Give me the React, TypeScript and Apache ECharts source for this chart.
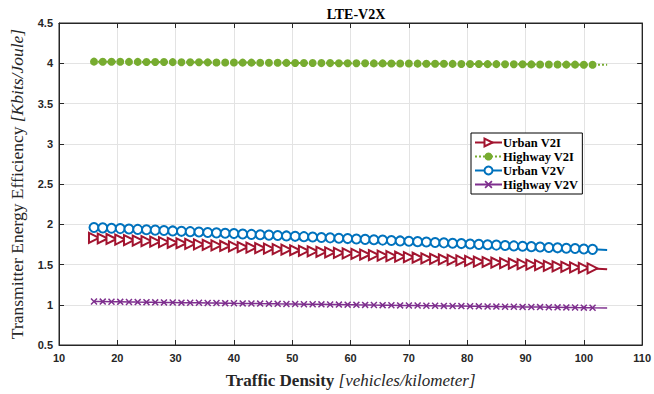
import React, { useEffect, useRef } from "react";
import * as echarts from "echarts";

const density = [16, 17.5, 19, 20.5, 22, 23.5, 25, 26.5, 28, 29.5, 31, 32.5, 34, 35.5, 37, 38.5, 40, 41.5, 43, 44.5, 46, 47.5, 49, 50.5, 52, 53.5, 55, 56.5, 58, 59.5, 61, 62.5, 64, 65.5, 67, 68.5, 70, 71.5, 73, 74.5, 76, 77.5, 79, 80.5, 82, 83.5, 85, 86.5, 88, 89.5, 91, 92.5, 94, 95.5, 97, 98.5, 100, 101.5, 104];

const urbanV2I = [1.830, 1.823, 1.817, 1.810, 1.803, 1.797, 1.790, 1.783, 1.777, 1.770, 1.764, 1.757, 1.750, 1.744, 1.737, 1.730, 1.724, 1.717, 1.710, 1.704, 1.697, 1.690, 1.684, 1.677, 1.670, 1.664, 1.657, 1.650, 1.644, 1.637, 1.631, 1.624, 1.617, 1.611, 1.604, 1.597, 1.591, 1.584, 1.577, 1.571, 1.564, 1.557, 1.551, 1.544, 1.537, 1.531, 1.524, 1.517, 1.511, 1.504, 1.498, 1.491, 1.484, 1.478, 1.471, 1.464, 1.458, 1.451, 1.440];

const highwayV2I = [4.020, 4.019, 4.019, 4.018, 4.017, 4.017, 4.016, 4.015, 4.015, 4.014, 4.013, 4.013, 4.012, 4.011, 4.010, 4.010, 4.009, 4.008, 4.008, 4.007, 4.006, 4.006, 4.005, 4.004, 4.004, 4.003, 4.002, 4.002, 4.001, 4.000, 4.000, 3.999, 3.998, 3.998, 3.997, 3.996, 3.996, 3.995, 3.994, 3.993, 3.993, 3.992, 3.991, 3.991, 3.990, 3.989, 3.989, 3.988, 3.987, 3.987, 3.986, 3.985, 3.985, 3.984, 3.983, 3.983, 3.982, 3.981, 3.980];

const urbanV2V = [1.960, 1.955, 1.950, 1.946, 1.941, 1.936, 1.931, 1.927, 1.922, 1.917, 1.912, 1.908, 1.903, 1.898, 1.893, 1.888, 1.884, 1.879, 1.874, 1.869, 1.865, 1.860, 1.855, 1.850, 1.846, 1.841, 1.836, 1.831, 1.826, 1.822, 1.817, 1.812, 1.807, 1.803, 1.798, 1.793, 1.788, 1.784, 1.779, 1.774, 1.769, 1.764, 1.760, 1.755, 1.750, 1.745, 1.741, 1.736, 1.731, 1.726, 1.722, 1.717, 1.712, 1.707, 1.702, 1.698, 1.693, 1.688, 1.680];

const highwayV2V = [1.040, 1.039, 1.037, 1.036, 1.035, 1.033, 1.032, 1.030, 1.029, 1.028, 1.026, 1.025, 1.024, 1.022, 1.021, 1.020, 1.018, 1.017, 1.016, 1.014, 1.013, 1.011, 1.010, 1.009, 1.007, 1.006, 1.005, 1.003, 1.002, 1.001, 0.999, 0.998, 0.996, 0.995, 0.994, 0.992, 0.991, 0.990, 0.988, 0.987, 0.986, 0.984, 0.983, 0.982, 0.980, 0.979, 0.977, 0.976, 0.975, 0.973, 0.972, 0.971, 0.969, 0.968, 0.967, 0.965, 0.964, 0.962, 0.960];

const seriesNames = ["Urban V2I", "Highway V2I", "Urban V2V", "Highway V2V"];
const xTicks = { min: 10, max: 110, interval: 10 };
const yTicks = { min: 0.5, max: 4.5, interval: 0.5 };

const X_SYMBOL =
  "path://M0,1.5L1.5,0L5,3.5L8.5,0L10,1.5L6.5,5L10,8.5L8.5,10L5,6.5L1.5,10L0,8.5L3.5,5Z";

function toData(vals: number[]) {
  return vals.map((v, i) => {
    const item: any = { value: [density[i], v] };
    if (i === vals.length - 1) item.symbol = "none";
    return item;
  });
}

export default function App() {
  const ref = useRef<HTMLDivElement>(null);
  useEffect(() => {
    if (!ref.current) return;
    const chart = echarts.init(ref.current, undefined, { renderer: "svg" });
    const tickLabel = {
      fontFamily: "Liberation Sans",
      fontWeight: "bold" as const,
      fontSize: 11,
      color: "#262626",
    };
    chart.setOption({
      animation: false,
      backgroundColor: "#fff",
      title: {
        text: "LTE-V2X",
        left: 351,
        textAlign: "center",
        top: 2,
        textStyle: {
          fontFamily: "Liberation Serif",
          fontWeight: "bold",
          fontSize: 14,
          color: "#000",
        },
      },
      legend: {
        orient: "vertical",
        left: 471,
        top: 133,
        padding: [3, 4, 3, 3],
        itemGap: 1,
        itemWidth: 27,
        itemHeight: 10,
        borderColor: "#000",
        borderWidth: 1,
        borderRadius: 0,
        backgroundColor: "#fff",
        data: seriesNames,
        textStyle: {
          fontFamily: "Liberation Serif",
          fontWeight: "bold",
          fontSize: 12.5,
          color: "#000",
          padding: [0, 0, 0, -4],
        },
      },
      grid: {
        left: 58,
        top: 23,
        width: 586,
        height: 326,
        show: true,
        borderColor: "#262626",
        borderWidth: 1,
      },
      xAxis: [
        {
          type: "value",
          ...xTicks,
          name: "{b|Traffic Density }{i|[vehicles/kilometer]}",
          nameLocation: "middle",
          nameGap: 27,
          nameTextStyle: {
            rich: {
              b: { fontFamily: "Liberation Serif", fontWeight: "bold", fontSize: 17, color: "#262626" },
              i: { fontFamily: "Liberation Serif", fontStyle: "italic", fontSize: 17, color: "#262626" },
            },
          },
          axisLine: { show: true, lineStyle: { color: "#262626" } },
          axisTick: { show: true, inside: true, length: 5, lineStyle: { color: "#262626" } },
          axisLabel: { ...tickLabel, margin: 7 },
          splitLine: { show: true, lineStyle: { color: "#e3e3e3", width: 1 } },
        },
        {
          type: "value",
          ...xTicks,
          position: "top",
          axisLine: { show: true, lineStyle: { color: "#262626" } },
          axisTick: { show: true, inside: true, length: 5, lineStyle: { color: "#262626" } },
          axisLabel: { show: false },
          splitLine: { show: false },
        },
      ],
      yAxis: [
        {
          type: "value",
          ...yTicks,
          name: "{b|Transmitter Energy Efficiency }{i|[Kbits/Joule]}",
          nameLocation: "middle",
          nameGap: 33,
          nameTextStyle: {
            rich: {
              b: { fontFamily: "Liberation Serif", fontSize: 17.5, color: "#262626" },
              i: { fontFamily: "Liberation Serif", fontStyle: "italic", fontSize: 17.5, color: "#262626" },
            },
          },
          axisLine: { show: true, lineStyle: { color: "#262626" } },
          axisTick: { show: true, inside: true, length: 5, lineStyle: { color: "#262626" } },
          axisLabel: { ...tickLabel, margin: 6 },
          splitLine: { show: true, lineStyle: { color: "#e3e3e3", width: 1 } },
        },
        {
          type: "value",
          ...yTicks,
          position: "right",
          axisLine: { show: true, lineStyle: { color: "#262626" } },
          axisTick: { show: true, inside: true, length: 5, lineStyle: { color: "#262626" } },
          axisLabel: { show: false },
          splitLine: { show: false },
        },
      ],
      series: [
        {
          name: seriesNames[0],
          type: "line",
          data: toData(urbanV2I),
          symbol: "emptyTriangle",
          symbolRotate: -90,
          symbolSize: 10,
          color: "#A2142F",
          lineStyle: { width: 2, color: "#A2142F" },
          itemStyle: { color: "#A2142F", borderColor: "#A2142F", borderWidth: 2 },
          z: 3,
        },
        {
          name: seriesNames[1],
          type: "line",
          data: toData(highwayV2I),
          symbol: "circle",
          symbolSize: 8,
          color: "#77AC30",
          lineStyle: { width: 2, type: "dotted", color: "#77AC30" },
          itemStyle: { color: "#77AC30" },
          z: 3,
        },
        {
          name: seriesNames[2],
          type: "line",
          data: toData(urbanV2V),
          symbol: "emptyCircle",
          symbolSize: 9,
          color: "#0072BD",
          lineStyle: { width: 2, color: "#0072BD" },
          itemStyle: { color: "#0072BD", borderColor: "#0072BD", borderWidth: 2 },
          z: 4,
        },
        {
          name: seriesNames[3],
          type: "line",
          data: toData(highwayV2V),
          symbol: X_SYMBOL,
          symbolSize: 7,
          color: "#7E2F8E",
          lineStyle: { width: 1.5, color: "#7E2F8E" },
          itemStyle: { color: "#7E2F8E" },
          z: 3,
        },
      ],
    });
    return () => chart.dispose();
  }, []);
  return (
    <div
      ref={ref}
      style={{ position: "fixed", left: 0, top: 0, width: 654, height: 394 }}
    />
  );
}
